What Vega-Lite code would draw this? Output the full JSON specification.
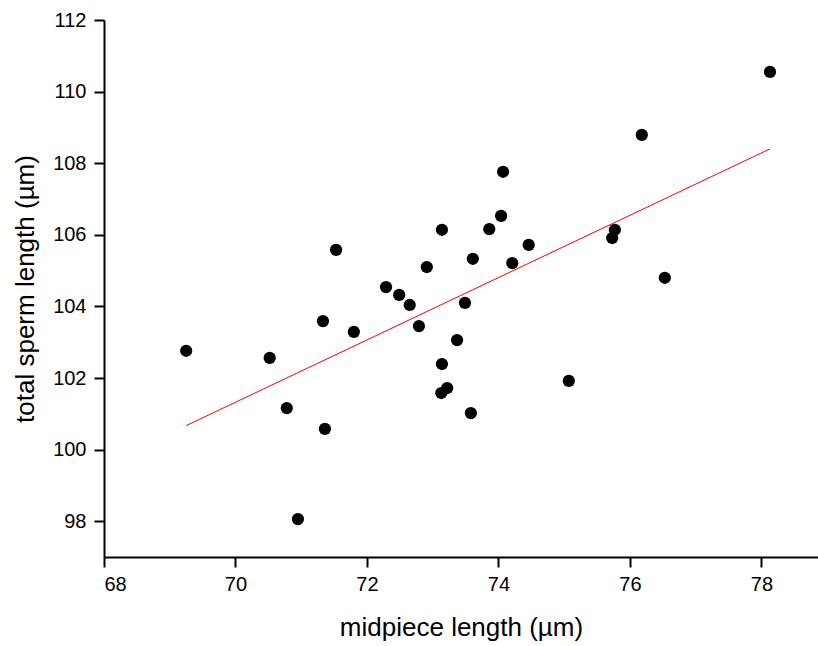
{
  "$schema": "https://vega.github.io/schema/vega-lite/v6.json",
  "width": 714,
  "height": 537,
  "autosize": {"type": "none"},
  "padding": {"left": 104, "top": 20, "right": 0, "bottom": 89},
  "background": "white",
  "config": {
    "view": {"stroke": null},
    "axis": {
      "grid": false,
      "domainColor": "black",
      "domainWidth": 2,
      "tickColor": "black",
      "tickWidth": 2,
      "tickSize": 10,
      "labelFont": "Liberation Sans",
      "labelFontSize": 20,
      "labelColor": "black",
      "titleFont": "Liberation Sans",
      "titleFontSize": 26,
      "titleFontWeight": "normal",
      "titleColor": "black"
    }
  },
  "datasets": {
    "points": [
      {"midpiece": 69.25, "total": 102.76},
      {"midpiece": 70.52, "total": 102.56},
      {"midpiece": 70.78, "total": 101.16},
      {"midpiece": 70.95, "total": 98.06},
      {"midpiece": 71.33, "total": 103.59},
      {"midpiece": 71.36, "total": 100.58},
      {"midpiece": 71.53, "total": 105.58},
      {"midpiece": 71.80, "total": 103.29},
      {"midpiece": 72.29, "total": 104.54},
      {"midpiece": 72.49, "total": 104.32},
      {"midpiece": 72.65, "total": 104.04},
      {"midpiece": 72.79, "total": 103.45},
      {"midpiece": 72.91, "total": 105.10},
      {"midpiece": 73.14, "total": 106.14},
      {"midpiece": 73.14, "total": 102.39},
      {"midpiece": 73.13, "total": 101.58},
      {"midpiece": 73.22, "total": 101.72},
      {"midpiece": 73.37, "total": 103.06},
      {"midpiece": 73.49, "total": 104.10},
      {"midpiece": 73.58, "total": 101.02},
      {"midpiece": 73.61, "total": 105.33},
      {"midpiece": 73.86, "total": 106.16},
      {"midpiece": 74.04, "total": 106.53},
      {"midpiece": 74.07, "total": 107.76},
      {"midpiece": 74.21, "total": 105.21},
      {"midpiece": 74.46, "total": 105.72},
      {"midpiece": 75.07, "total": 101.92},
      {"midpiece": 75.73, "total": 105.91},
      {"midpiece": 75.77, "total": 106.14},
      {"midpiece": 76.18, "total": 108.79},
      {"midpiece": 76.53, "total": 104.80},
      {"midpiece": 78.13, "total": 110.55}
    ],
    "fit": [
      {"midpiece": 69.25, "total": 100.67},
      {"midpiece": 78.13, "total": 108.40}
    ]
  },
  "layer": [
    {
      "data": {"name": "fit"},
      "mark": {"type": "line", "color": "#ff0000", "strokeWidth": 1},
      "encoding": {
        "x": {"field": "midpiece", "type": "quantitative"},
        "y": {"field": "total", "type": "quantitative"}
      }
    },
    {
      "data": {"name": "points"},
      "mark": {"type": "point", "shape": "circle", "filled": true, "color": "black", "opacity": 1, "size": 150},
      "encoding": {
        "x": {
          "field": "midpiece",
          "type": "quantitative",
          "title": "midpiece length (µm)",
          "scale": {"domain": [68, 78.86], "nice": false, "zero": false},
          "axis": {"values": [68, 70, 72, 74, 76, 78], "format": "d", "labelPadding": 7, "titlePadding": 20}
        },
        "y": {
          "field": "total",
          "type": "quantitative",
          "title": "total sperm length (µm)",
          "scale": {"domain": [97, 112], "nice": false, "zero": false},
          "axis": {"values": [98, 100, 102, 104, 106, 108, 110, 112], "format": "d", "labelPadding": 8, "titlePadding": 14}
        }
      }
    }
  ]
}
